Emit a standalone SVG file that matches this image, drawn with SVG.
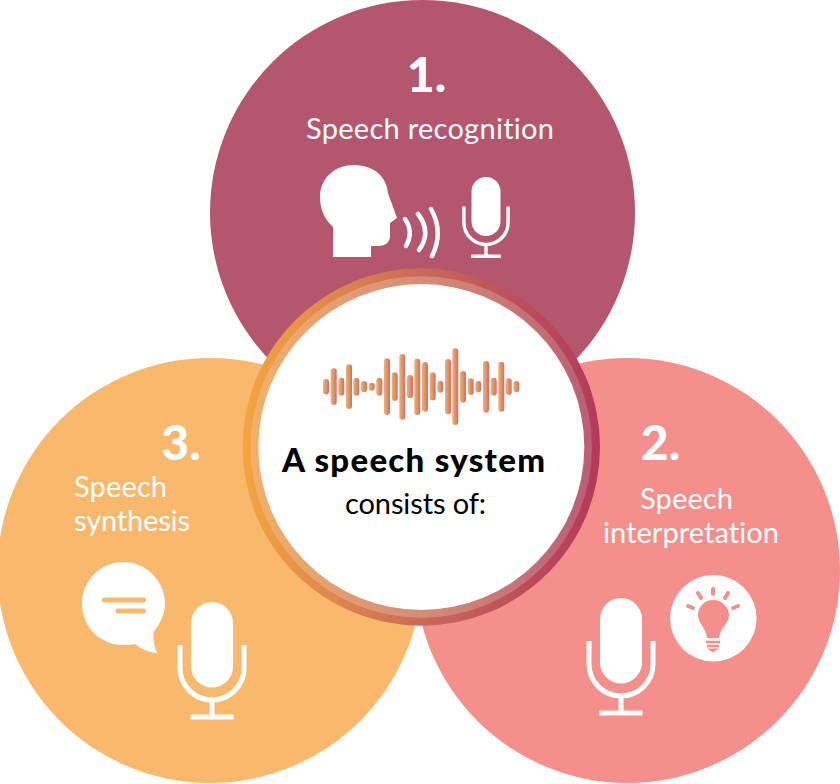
<svg xmlns="http://www.w3.org/2000/svg" xmlns:xlink="http://www.w3.org/1999/xlink" width="840" height="784" viewBox="0 0 840 784">
<defs>
<linearGradient id="ringO" gradientUnits="userSpaceOnUse" x1="243" y1="447" x2="601" y2="447"><stop offset="0" stop-color="#f5a53f"/><stop offset="0.5" stop-color="#c8695a"/><stop offset="1" stop-color="#b5385c"/></linearGradient>
<linearGradient id="ringI" gradientUnits="userSpaceOnUse" x1="250" y1="447" x2="592" y2="447"><stop offset="0" stop-color="#f2b06a"/><stop offset="0.5" stop-color="#d68c78"/><stop offset="1" stop-color="#ba5f74"/></linearGradient>
<linearGradient id="bar" x1="0" y1="0" x2="1" y2="0"><stop offset="0" stop-color="#f3b36a"/><stop offset="1" stop-color="#c9716f"/></linearGradient>
<g id="mic">
<rect x="-21" y="-61" width="42" height="85.500" rx="21" fill="#fff"/>
<path d="M-32 -18V5A32 32 0 0 0 32 5V-18M0 37V54M-21.500 54H21.500" fill="none" stroke="#fff" stroke-width="5"/>
</g>
</defs>
<style>
text{font-family:Lato,"Open Sans",sans-serif;fill:#fff;font-variant-ligatures:none}
.num{font-size:48px;font-weight:900}
.lab{font-size:29px;font-weight:400}
.w{fill:#fff}
.b{stroke:#fff;fill:none;stroke-linecap:round}
</style>
<g id="node-1">
<circle cx="422.500" cy="212.500" r="212.500" fill="#b5566f"/>
<text class="num" x="426.500" y="92" text-anchor="middle">1.</text>
<text class="lab" x="306" y="139" textLength="248" lengthAdjust="spacing">Speech recognition</text>
<path class="w" d="M333 257V227C324 219 320 208 320 197C320 178 335 165 354 165C376 165 387 179 388 193L397 218L390 223V235C390 242 386 246 378 246H371V257Z"/>
<path class="b" stroke-width="4.500" d="M405 219Q414 232 406 246M418 214Q432 232 419 250M431 209Q444 232 432 256"/>
<use xlink:href="#mic" transform="translate(486,219) scale(0.69)"/>
</g>
<g id="node-2">
<circle cx="627.500" cy="570.500" r="212.500" fill="#f48f8b"/>
<text class="num" x="660.500" y="460" text-anchor="middle">2.</text>
<text class="lab" x="640" y="509" textLength="93" lengthAdjust="spacing">Speech</text>
<text class="lab" x="603" y="543" textLength="176" lengthAdjust="spacing">interpretation</text>
<use xlink:href="#mic" transform="translate(621,659)"/>
<circle class="w" cx="713.300" cy="618.300" r="43.300"/>
<path d="M713 600C703 600 698 608 698 615C698 624 706 627 707 638H719C720 627 729 624 729 615C729 608 723 600 713 600Z" fill="#f48f8b"/>
<path d="M706 642H720M707 646H719" stroke="#f48f8b" stroke-width="2.500"/>
<path d="M707 648.500H719L713 652.500Z" fill="#f48f8b"/>
<path d="M713 589V594M698 593L701 598M728 593L725 598M688 606L693 608M738 606L733 608" stroke="#f48f8b" stroke-width="4" stroke-linecap="round"/>
</g>
<g id="node-3">
<circle cx="210" cy="570.500" r="212.500" fill="#f9b86c"/>
<text class="num" x="181" y="460" text-anchor="middle">3.</text>
<text class="lab" x="74" y="497" textLength="93" lengthAdjust="spacing">Speech</text>
<text class="lab" x="74" y="531" textLength="116" lengthAdjust="spacing">synthesis</text>
<use xlink:href="#mic" transform="translate(212,663)"/>
<path class="w" d="M123.500 562C146 562 165 581 165 603.500C165 614 160 624 153.500 632C153 640 154 647 157.500 653.500C148 652 141 649 135 644C131 645 127 645 123.500 645C100 645 82 627 82 603.500C82 581 100 562 123.500 562Z"/>
<path d="M104.500 600H143.500M118 611H143.500" stroke="#f9b86c" stroke-width="5" stroke-linecap="round" fill="none"/>
</g>
<g id="connectors"></g>
<g id="centre">
<circle cx="421.300" cy="447" r="178.700" fill="url(#ringO)"/>
<circle cx="421.300" cy="447" r="170.700" fill="url(#ringI)"/>
<circle cx="421.300" cy="447" r="163" fill="#fff"/>
<g fill="url(#bar)">
<rect x="323" y="379" width="6" height="15.500" rx="3"/>
<rect x="330.700" y="368.300" width="6" height="36.700" rx="3"/>
<rect x="338.300" y="377.700" width="6" height="18" rx="3"/>
<rect x="346" y="364.300" width="6" height="44.700" rx="3"/>
<rect x="353.300" y="377.700" width="6" height="18" rx="3"/>
<rect x="361" y="381" width="6" height="11.300" rx="3"/>
<rect x="368.700" y="382.700" width="6" height="8" rx="3"/>
<rect x="376.300" y="377.700" width="6" height="18" rx="3"/>
<rect x="384" y="358.300" width="6" height="56.700" rx="3"/>
<rect x="391.700" y="372.300" width="6" height="28.700" rx="3"/>
<rect x="399.300" y="354" width="6" height="65.700" rx="3"/>
<rect x="407" y="375" width="6" height="23.300" rx="3"/>
<rect x="414.300" y="358.700" width="6" height="56.300" rx="3"/>
<rect x="422" y="362" width="6" height="49.700" rx="3"/>
<rect x="429.700" y="372.300" width="6" height="28.300" rx="3"/>
<rect x="437.300" y="380.700" width="6" height="12" rx="3"/>
<rect x="445" y="359" width="6" height="55.300" rx="3"/>
<rect x="452.300" y="348.300" width="6" height="76.700" rx="3"/>
<rect x="460" y="371" width="6" height="31.700" rx="3"/>
<rect x="467.700" y="378.300" width="6" height="16.700" rx="3"/>
<rect x="475.300" y="381" width="6" height="11.300" rx="3"/>
<rect x="483" y="361" width="6" height="51.700" rx="3"/>
<rect x="490.700" y="377.700" width="6" height="18" rx="3"/>
<rect x="498.300" y="361.700" width="6" height="50" rx="3"/>
<rect x="505.700" y="378.300" width="6" height="16.700" rx="3"/>
<rect x="513.300" y="381" width="6" height="11.300" rx="3"/>
</g>
<text x="282" y="472" textLength="263" lengthAdjust="spacing" font-size="33" font-weight="900" style="fill:#000">A speech system</text>
<text x="345" y="514" textLength="141" lengthAdjust="spacing" font-size="29" style="fill:#000">consists of:</text>
</g>
</svg>
